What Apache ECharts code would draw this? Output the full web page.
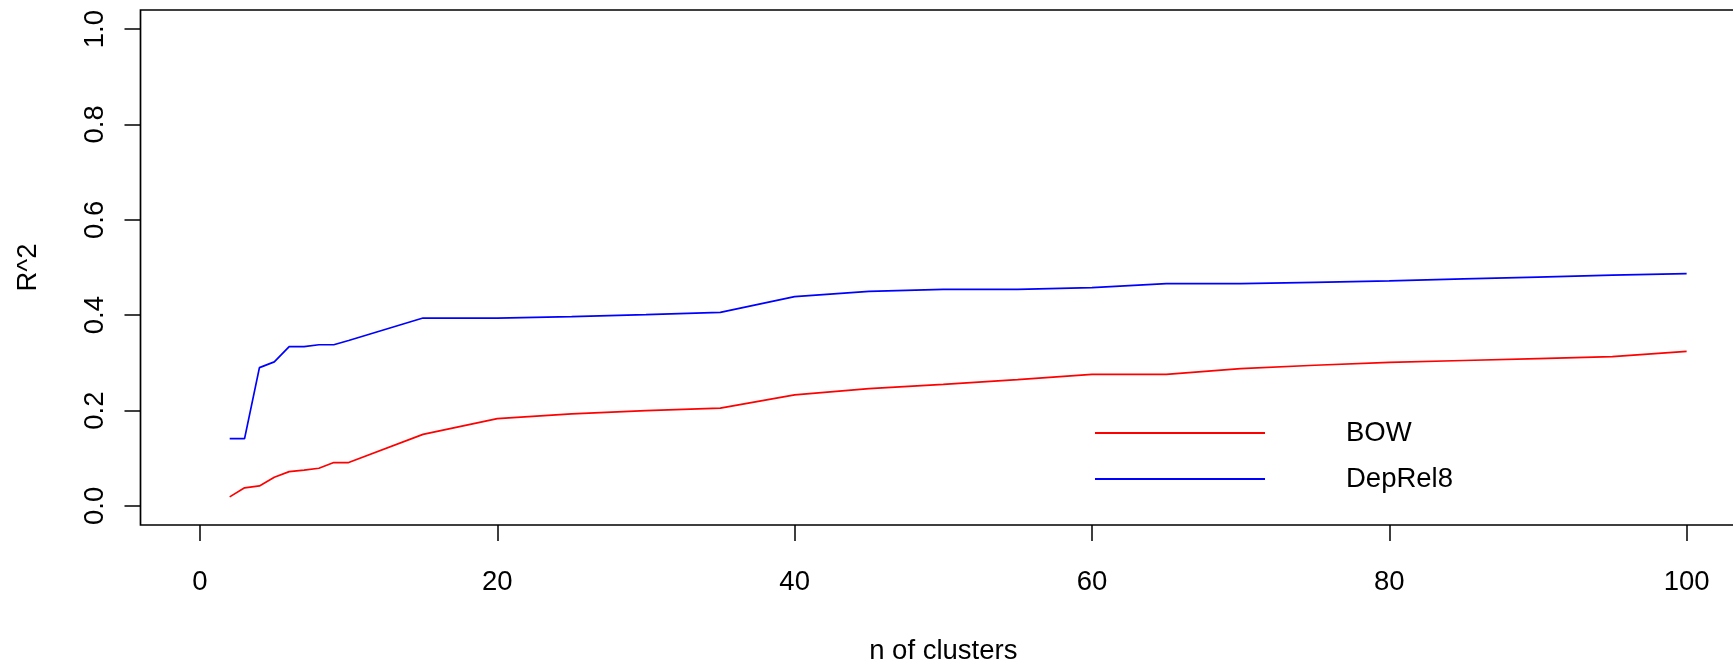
<!DOCTYPE html>
<html>
<head>
<meta charset="utf-8">
<script src="https://cdn.jsdelivr.net/npm/echarts@6/dist/echarts.min.js"></script>
<style>
  html, body { margin: 0; padding: 0; background: #fff; }
  #rsqChart { width: 1733px; height: 663px; }
</style>
</head>
<body>
<div id="rsqChart"></div>
<script>
  // number of clusters (x)
  const nClusters = [2, 3, 4, 5, 6, 7, 8, 9, 10, 15, 20, 25, 30, 35, 40, 45, 50, 55, 60, 65, 70, 75, 80, 85, 90, 95, 100];
  // R^2 per model
  const bowR2 = [0.019, 0.038, 0.042, 0.060, 0.072, 0.075, 0.079, 0.091, 0.091, 0.150, 0.183, 0.193, 0.200, 0.205,
                 0.233, 0.246, 0.255, 0.265, 0.276, 0.276, 0.288, 0.295, 0.301, 0.305, 0.309, 0.313, 0.324];
  const depRel8R2 = [0.141, 0.141, 0.290, 0.302, 0.334, 0.334, 0.338, 0.338, 0.347, 0.394, 0.394, 0.397, 0.401, 0.406,
                     0.439, 0.450, 0.454, 0.454, 0.458, 0.466, 0.466, 0.469, 0.472, 0.476, 0.480, 0.484, 0.487];
  const xTicks = [0, 20, 40, 60, 80, 100];
  const yTicks = [0, 0.2, 0.4, 0.6, 0.8, 1.0];

  const font = 'Liberation Sans';
  const fs = 27.5;

  function pairs(ys) {
    return nClusters.map((x, i) => [x, ys[i]]);
  }

  const chart = echarts.init(document.getElementById('rsqChart'));
  const option = {
    animation: false,
    backgroundColor: '#fff',
    textStyle: { fontFamily: font, color: '#000' },
    grid: {
      show: true,
      left: 140.5,
      width: 1605.6,   // R box runs past the right edge of the picture
      top: 10,
      height: 515,
      outerBoundsMode: 'none',
      containLabel: false,
      borderColor: '#000',
      borderWidth: 1.7,
      backgroundColor: 'transparent'
    },
    legend: {
      orient: 'vertical',
      left: 1090,
      top: 413,
      itemWidth: 170,
      itemHeight: 2,
      itemGap: 16,
      icon: 'rect',
      selectedMode: false,
      data: ['BOW', 'DepRel8'],
      textStyle: {
        fontFamily: font,
        fontSize: fs,
        color: '#000',
        lineHeight: 30,
        padding: [0, 0, 0, 76]
      }
    },
    xAxis: {
      type: 'value',
      min: -4,
      max: 104,
      name: 'n of clusters',
      nameLocation: 'middle',
      nameGap: 112,
      nameTextStyle: { fontFamily: font, fontSize: fs, color: '#000' },
      axisLine: { show: false, onZero: false },
      splitLine: { show: false },
      axisTick: {
        show: true,
        length: 16,
        customValues: xTicks,
        lineStyle: { color: '#000', width: 1.5 }
      },
      axisLabel: {
        customValues: xTicks,
        margin: 43,
        fontFamily: font,
        fontSize: fs,
        color: '#000'
      }
    },
    yAxis: {
      type: 'value',
      min: -0.04,
      max: 1.04,
      name: 'R^2',
      nameLocation: 'middle',
      nameGap: 98,
      nameTextStyle: { fontFamily: font, fontSize: fs, color: '#000' },
      axisLine: { show: false, onZero: false },
      splitLine: { show: false },
      axisTick: {
        show: true,
        length: 16,
        customValues: yTicks,
        lineStyle: { color: '#000', width: 1.5 }
      },
      axisLabel: {
        customValues: yTicks,
        rotate: 90,
        margin: 31.5,
        fontFamily: font,
        fontSize: fs,
        color: '#000',
        formatter: function (v) { return v.toFixed(1); }
      }
    },
    series: [
      {
        name: 'BOW',
        type: 'line',
        data: pairs(bowR2),
        showSymbol: false,
        symbol: 'none',
        color: '#ff0000',
        lineStyle: { color: '#ff0000', width: 1.7 }
      },
      {
        name: 'DepRel8',
        type: 'line',
        data: pairs(depRel8R2),
        showSymbol: false,
        symbol: 'none',
        color: '#0000ff',
        lineStyle: { color: '#0000ff', width: 1.7 }
      }
    ]
  };
  chart.setOption(option);
</script>
</body>
</html>
